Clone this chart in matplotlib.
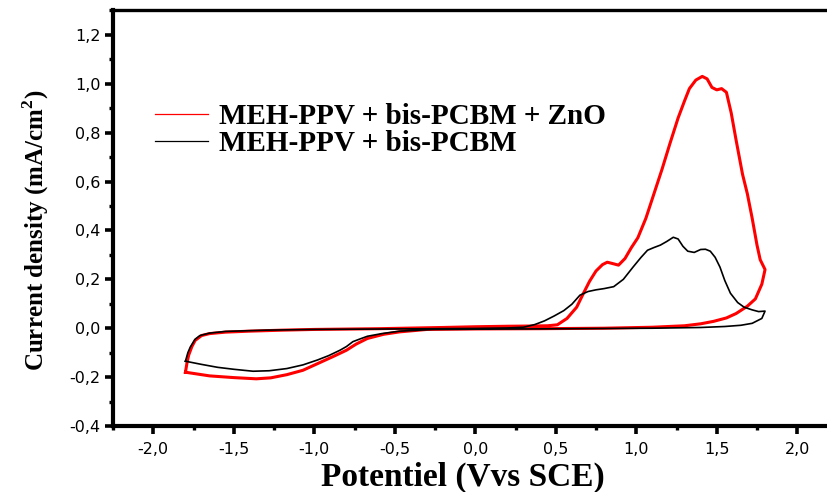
import numpy as np
import matplotlib.pyplot as plt
from matplotlib.lines import Line2D
from matplotlib.ticker import MultipleLocator, FuncFormatter

# --- CV data (closed loops: anodic branch then return) ---
# MEH-PPV + bis-PCBM + ZnO
E_zno = [-1.80, -1.79, -1.78, -1.76, -1.74, -1.70, -1.65, -1.55, -1.40, -1.20,
         -1.00, -0.60, -0.20, 0.00, 0.20, 0.35, 0.45, 0.51, 0.57, 0.63,
         0.67, 0.71, 0.75, 0.79, 0.82, 0.85, 0.89, 0.93, 0.97, 1.01,
         1.06, 1.11, 1.16, 1.21, 1.26, 1.30, 1.33, 1.37, 1.41, 1.44,
         1.47, 1.50, 1.53, 1.56, 1.59, 1.62, 1.66, 1.69, 1.72, 1.75,
         1.77, 1.80, 1.78, 1.74, 1.69, 1.62, 1.56, 1.48, 1.40, 1.30,
         1.10, 0.80, 0.40, 0.00, -0.30, -0.47, -0.57, -0.67, -0.74, -0.80,
         -0.88, -0.98, -1.07, -1.17, -1.27, -1.36, -1.50, -1.65, -1.80]
J_zno = [-0.180, -0.140, -0.110, -0.075, -0.050, -0.030, -0.022, -0.016, -0.012, -0.008,
         -0.005, -0.002, 0.003, 0.006, 0.008, 0.009, 0.010, 0.014, 0.040, 0.086,
         0.140, 0.192, 0.234, 0.260, 0.270, 0.265, 0.258, 0.285, 0.330, 0.370,
         0.450, 0.550, 0.650, 0.757, 0.860, 0.930, 0.980, 1.015, 1.030, 1.020,
         0.985, 0.975, 0.980, 0.965, 0.880, 0.770, 0.630, 0.550, 0.450, 0.340,
         0.280, 0.240, 0.180, 0.120, 0.090, 0.060, 0.042, 0.028, 0.018, 0.010,
         0.004, 0.000, -0.002, -0.003, -0.005, -0.015, -0.025, -0.042, -0.065, -0.090,
         -0.115, -0.145, -0.172, -0.190, -0.203, -0.207, -0.202, -0.195, -0.180]

# MEH-PPV + bis-PCBM
E_ref = [-1.80, -1.785, -1.77, -1.74, -1.71, -1.65, -1.55, -1.30, -1.00, -0.50,
         0.00, 0.20, 0.30, 0.37, 0.43, 0.49, 0.55, 0.60, 0.65, 0.70,
         0.75, 0.80, 0.86, 0.92, 0.98, 1.03, 1.07, 1.11, 1.15, 1.19,
         1.23, 1.26, 1.29, 1.32, 1.36, 1.40, 1.43, 1.46, 1.49, 1.52,
         1.55, 1.585, 1.63, 1.67, 1.72, 1.76, 1.80, 1.78, 1.72, 1.65,
         1.55, 1.40, 1.10, 0.60, 0.00, -0.26, -0.47, -0.58, -0.67, -0.72,
         -0.76, -0.80, -0.84, -0.91, -0.98, -1.07, -1.17, -1.28, -1.38, -1.50,
         -1.60, -1.70, -1.80]
J_ref = [-0.135, -0.100, -0.077, -0.045, -0.030, -0.020, -0.013, -0.008, -0.005, -0.003,
         -0.001, 0.001, 0.004, 0.015, 0.030, 0.050, 0.072, 0.098, 0.135, 0.150,
         0.157, 0.162, 0.170, 0.200, 0.250, 0.290, 0.319, 0.330, 0.340, 0.355,
         0.372, 0.365, 0.335, 0.315, 0.310, 0.322, 0.323, 0.315, 0.290, 0.250,
         0.195, 0.143, 0.105, 0.086, 0.075, 0.068, 0.070, 0.040, 0.020, 0.012,
         0.007, 0.003, 0.000, -0.002, -0.004, -0.005, -0.012, -0.022, -0.033, -0.045,
         -0.055, -0.075, -0.090, -0.112, -0.130, -0.150, -0.165, -0.174, -0.176, -0.168,
         -0.160, -0.148, -0.135]

labels = ['MEH-PPV + bis-PCBM + ZnO', 'MEH-PPV + bis-PCBM']

serif = 'Liberation Serif'
plt.rcParams['font.family'] = 'DejaVu Sans'
plt.rcParams['mathtext.fontset'] = 'custom'
plt.rcParams['mathtext.bf'] = 'Liberation Serif:bold'
plt.rcParams['mathtext.rm'] = 'Liberation Serif:bold'

fig = plt.figure(figsize=(8.27, 4.92), dpi=100)
# axes run past the right edge of the picture (right spine is cut off)
ax = fig.add_axes([113 / 827, 1 - 426 / 492, 724.5 / 827, 415.6 / 492])

ax.plot(E_zno, J_zno, color='red', lw=2.2)
ax.plot(E_ref, J_ref, color='black', lw=1.2)

ax.set_xlim(-2.25, 2.25)
ax.set_ylim(-0.4, 1.3)

ax.xaxis.set_major_locator(MultipleLocator(0.5))
ax.xaxis.set_minor_locator(MultipleLocator(0.25))
ax.yaxis.set_major_locator(MultipleLocator(0.2))
ax.yaxis.set_minor_locator(MultipleLocator(0.1))

comma = FuncFormatter(lambda v, pos: f'{v:.1f}'.replace('.', ','))
ax.xaxis.set_major_formatter(comma)
ax.yaxis.set_major_formatter(comma)

for s in ax.spines.values():
    s.set_linewidth(3.0)
ax.spines['top'].set_linewidth(2.4)
ax.tick_params(which='major', direction='out', length=5.5, width=2.6, labelsize=11.5)
ax.tick_params(which='minor', direction='out', length=3.0, width=2.4)
ax.tick_params(axis='x', which='major', pad=6)
ax.tick_params(top=False, right=False)

ax.set_xlabel('Potentiel (Vvs SCE)', family=serif, weight='bold', fontsize=24)
ax.xaxis.set_label_coords((463 - 113) / 724.5, -0.085)
ax.set_ylabel('Current density (mA/cm$^{\\mathbf{2}}$)', family=serif,
              weight='bold', fontsize=18)
ax.yaxis.set_label_coords(-0.085, 0.47)

# legend lines are thin in the original, unlike the plotted curves
handles = [Line2D([], [], color='red', lw=0.9), Line2D([], [], color='black', lw=0.9)]
ax.legend(handles, labels, loc='upper left', bbox_to_anchor=(0.022, 0.84), frameon=False,
          prop={'family': serif, 'weight': 'bold', 'size': 21},
          handlelength=1.8, handletextpad=0.4, labelspacing=0.0)

fig.savefig('out.png', dpi=100)
